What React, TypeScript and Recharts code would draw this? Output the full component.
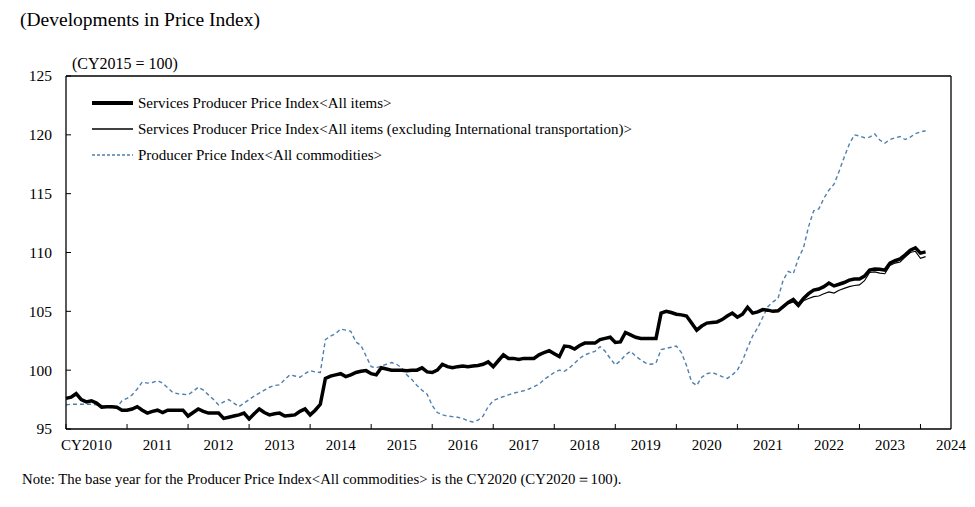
import { LineChart, Line, XAxis, YAxis, Legend, ReferenceLine } from "recharts";

// monthly, Jan 2010 .. Feb 2024
const sppiAll = [
  97.6, 97.7, 98.0, 97.5, 97.3, 97.4, 97.2, 96.85, 96.9, 96.9, 96.85, 96.6,
  96.6, 96.7, 96.9, 96.6, 96.35, 96.5, 96.6, 96.4, 96.6, 96.6, 96.6, 96.6,
  96.1, 96.4, 96.7, 96.5, 96.35, 96.35, 96.35, 95.9, 96.0, 96.1, 96.2, 96.35,
  95.85, 96.3, 96.7, 96.4, 96.2, 96.3, 96.35, 96.1, 96.15, 96.2, 96.5, 96.7,
  96.2, 96.6, 97.1, 99.3, 99.5, 99.6, 99.7, 99.45, 99.6, 99.8, 99.9, 99.96,
  99.7, 99.6, 100.2, 100.1, 100.0, 100.0, 100.0, 99.95, 100.0, 100.0, 100.2, 99.85,
  99.8, 100.0, 100.5, 100.3, 100.2, 100.3, 100.35, 100.3, 100.35, 100.4, 100.5, 100.7,
  100.3, 100.8, 101.3, 101.0, 101.0, 100.9, 101.0, 101.0, 101.0, 101.3, 101.5, 101.66,
  101.4, 101.15, 102.05, 102.0, 101.8, 102.1, 102.3, 102.3, 102.3, 102.6, 102.7, 102.8,
  102.35, 102.4, 103.2, 103.0, 102.8, 102.7, 102.7, 102.7, 102.7, 104.85, 105.0, 104.9,
  104.75, 104.7, 104.6, 104.0, 103.4, 103.75, 104.0, 104.05, 104.1, 104.3, 104.6, 104.85,
  104.5, 104.75, 105.35, 104.85, 104.95, 105.15, 105.1, 105.0, 105.05, 105.4, 105.75, 106.0,
  105.55, 106.1, 106.5, 106.8, 106.9, 107.1, 107.4, 107.16, 107.3, 107.45, 107.65, 107.75,
  107.75, 108.0, 108.5, 108.6, 108.58, 108.5, 109.1, 109.3, 109.45, 109.8, 110.2, 110.4,
  109.95, 110.05,
];

const sppiExIntl = [
  97.6, 97.7, 98.0, 97.5, 97.3, 97.4, 97.2, 96.85, 96.9, 96.9, 96.85, 96.6,
  96.6, 96.7, 96.9, 96.6, 96.35, 96.5, 96.6, 96.4, 96.6, 96.6, 96.6, 96.6,
  96.1, 96.4, 96.7, 96.5, 96.35, 96.35, 96.35, 95.9, 96.0, 96.1, 96.2, 96.35,
  95.85, 96.3, 96.7, 96.4, 96.2, 96.3, 96.35, 96.1, 96.15, 96.2, 96.5, 96.7,
  96.2, 96.6, 97.1, 99.3, 99.5, 99.6, 99.7, 99.45, 99.6, 99.8, 99.9, 99.96,
  99.7, 99.6, 100.2, 100.1, 100.0, 100.0, 100.0, 99.95, 100.0, 100.0, 100.2, 99.85,
  99.8, 100.0, 100.5, 100.3, 100.2, 100.3, 100.4, 100.35, 100.4, 100.45, 100.5, 100.7,
  100.3, 100.8, 101.3, 101.0, 101.0, 100.9, 101.0, 101.0, 101.0, 101.3, 101.5, 101.66,
  101.4, 101.15, 102.05, 102.0, 101.8, 102.1, 102.3, 102.3, 102.3, 102.6, 102.7, 102.8,
  102.35, 102.4, 103.2, 103.0, 102.8, 102.7, 102.7, 102.7, 102.7, 104.85, 105.0, 104.9,
  104.75, 104.7, 104.6, 104.0, 103.4, 103.75, 104.0, 104.05, 104.1, 104.3, 104.6, 104.85,
  104.5, 104.75, 105.35, 104.85, 104.95, 105.15, 105.1, 105.0, 105.05, 105.3, 105.65, 105.8,
  105.35, 105.9, 106.1, 106.25, 106.3, 106.5, 106.65, 106.55, 106.8, 106.95, 107.1, 107.2,
  107.25, 107.6, 108.3, 108.35, 108.25, 108.2, 108.9, 109.1, 109.2, 109.6, 110.0, 110.1,
  109.5, 109.65,
];

const ppiAll = [
  97.05, 97.1, 97.1, 97.1, 97.1, 97.1, 97.05, 97.0, 96.9, 96.8, 96.8, 97.4,
  97.6, 97.9, 98.4, 99.0, 98.9, 98.95, 99.1, 98.9, 98.5, 98.1, 98.0, 97.95,
  97.9, 98.2, 98.55, 98.3, 97.9, 97.5, 97.05, 97.3, 97.5, 97.2, 96.9, 97.2,
  97.5, 97.8, 98.05, 98.3, 98.55, 98.7, 98.75, 99.2, 99.6, 99.5, 99.4, 99.7,
  99.96, 99.85, 99.8, 102.6, 102.9, 103.1, 103.5, 103.4, 103.3, 102.4, 102.1, 101.2,
  100.3, 100.2, 100.36, 100.5, 100.65, 100.5, 100.2, 99.6, 99.2, 98.7, 98.3, 97.95,
  97.0, 96.4, 96.2, 96.1, 96.05, 96.0, 95.9, 95.7, 95.6, 95.75, 96.1, 96.9,
  97.4, 97.6, 97.75, 97.9, 98.05, 98.15, 98.25, 98.4, 98.6, 98.8, 99.2, 99.5,
  99.8, 100.0, 99.9, 100.2, 100.6, 101.0, 101.3, 101.45, 101.6, 102.0, 101.6, 101.0,
  100.45, 100.8, 101.3, 101.6, 101.2, 100.87, 100.6, 100.5, 100.6, 101.75, 101.85, 101.95,
  102.05, 101.5, 100.4, 99.0, 98.7, 99.4, 99.7, 99.8, 99.65, 99.45, 99.3, 99.6,
  100.0, 100.8, 101.9, 102.9, 103.6, 104.5, 105.4, 105.8, 106.1, 107.65, 108.4, 108.2,
  109.5, 110.4, 112.2, 113.55, 113.7, 114.6, 115.3, 115.8, 116.9, 118.1, 119.2, 120.0,
  119.9, 119.75, 119.8, 120.07, 119.56, 119.3, 119.6, 119.75, 119.85, 119.6, 119.8, 120.1,
  120.25, 120.35,
];

const yearLabels = [
  "CY2010", "2011", "2012", "2013", "2014", "2015", "2016", "2017",
  "2018", "2019", "2020", "2021", "2022", "2023", "2024",
];
const yTicks = [95, 100, 105, 110, 115, 120, 125];

const seriesNames = [
  "Services Producer Price Index<All items>",
  "Services Producer Price Index<All items (excluding International transportation)>",
  "Producer Price Index<All commodities>",
];

const data = sppiAll.map((v, i) => ({
  m: i,
  sppi: v,
  sppiEx: sppiExIntl[i],
  ppi: ppiAll[i],
}));

const FONT = "'Liberation Serif', 'Times New Roman', serif";
const PPI_COLOR = "#4f7fae";
const X_MAX = 174;
const PLOT_LEFT = 66;
const PLOT_RIGHT = 951;
const MONTH_PX = (PLOT_RIGHT - PLOT_LEFT) / X_MAX;

function YearTick(props: any) {
  const { x, y, payload } = props;
  const idx = Math.round(payload.value / 12);
  const dx = idx === 0 ? -10 : 0;
  return (
    <g>
      <line x1={x} x2={x} y1={y} y2={y - 5} stroke="#000" strokeWidth={1} />
      <text
        x={x + 6 * MONTH_PX + dx}
        y={y + 21}
        textAnchor="middle"
        fontSize={15}
        fontFamily={FONT}
        fill="#000"
      >
        {yearLabels[idx]}
      </text>
    </g>
  );
}

function ValueTick(props: any) {
  const { x, y, payload } = props;
  return (
    <g>
      <line x1={x + 14} x2={x + 19} y1={y} y2={y} stroke="#000" strokeWidth={1} />
      <text
        x={x}
        y={y}
        dy="0.35em"
        textAnchor="end"
        fontSize={15.5}
        fontFamily={FONT}
        fill="#000"
      >
        {payload.value}
      </text>
    </g>
  );
}

function LegendBox() {
  const swatches = [
    { stroke: "#000", width: 4, dash: undefined },
    { stroke: "#000", width: 1.3, dash: undefined },
    { stroke: PPI_COLOR, width: 1.3, dash: "3 2" },
  ];
  return (
    <div style={{ fontFamily: FONT, fontSize: 15, color: "#000" }}>
      {seriesNames.map((name, i) => (
        <div key={name} style={{ display: "flex", alignItems: "center", height: 26 }}>
          <svg width={42} height={10} style={{ marginRight: 4 }}>
            <line
              x1={0}
              x2={41}
              y1={5}
              y2={5}
              stroke={swatches[i].stroke}
              strokeWidth={swatches[i].width}
              strokeDasharray={swatches[i].dash}
            />
          </svg>
          <span>{name}</span>
        </div>
      ))}
    </div>
  );
}

export default function App() {
  return (
    <div
      style={{
        position: "absolute",
        left: 0,
        top: 0,
        width: 975,
        height: 507,
        background: "#fff",
        fontFamily: FONT,
      }}
    >
      <div style={{ position: "absolute", left: 20, top: 10, fontSize: 19.5, lineHeight: "20px" }}>
        (Developments in Price Index)
      </div>
      <div style={{ position: "absolute", left: 72, top: 56, fontSize: 16, lineHeight: "16px" }}>
        (CY2015 = 100)
      </div>
      <LineChart
        width={975}
        height={507}
        data={data}
        margin={{ top: 76, right: 24, bottom: 48, left: 0 }}
      >
        <XAxis
          dataKey="m"
          type="number"
          domain={[0, X_MAX]}
          ticks={yearLabels.map((_, i) => i * 12)}
          interval={0}
          height={30}
          tickSize={0}
          tickMargin={0}
          tickLine={false}
          axisLine={{ stroke: "#000", strokeWidth: 1.3 }}
          tick={<YearTick />}
        />
        <YAxis
          type="number"
          domain={[95, 125]}
          ticks={yTicks}
          interval={0}
          width={66}
          tickSize={0}
          tickMargin={14}
          tickLine={false}
          axisLine={{ stroke: "#000", strokeWidth: 1.3 }}
          tick={<ValueTick />}
        />
        <ReferenceLine y={125} stroke="#000" strokeWidth={1.3} />
        <ReferenceLine x={X_MAX} stroke="#000" strokeWidth={1.3} />
        <Legend
          layout="vertical"
          align="center"
          verticalAlign="middle"
          wrapperStyle={{ left: 92, top: 90, width: 640, height: 80 }}
          content={() => <LegendBox />}
        />
        <Line
          dataKey="ppi"
          stroke={PPI_COLOR}
          strokeWidth={1.4}
          strokeDasharray="4 3"
          dot={false}
          isAnimationActive={false}
        />
        <Line
          dataKey="sppi"
          stroke="#000"
          strokeWidth={3.5}
          dot={false}
          isAnimationActive={false}
        />
        <Line
          dataKey="sppiEx"
          stroke="#000"
          strokeWidth={1.1}
          dot={false}
          isAnimationActive={false}
        />
      </LineChart>
      <div style={{ position: "absolute", left: 22, top: 472, fontSize: 14.8, lineHeight: "15px" }}>
        Note: The base year for the Producer Price Index&lt;All commodities&gt; is the CY2020 (CY2020＝100).
      </div>
    </div>
  );
}
